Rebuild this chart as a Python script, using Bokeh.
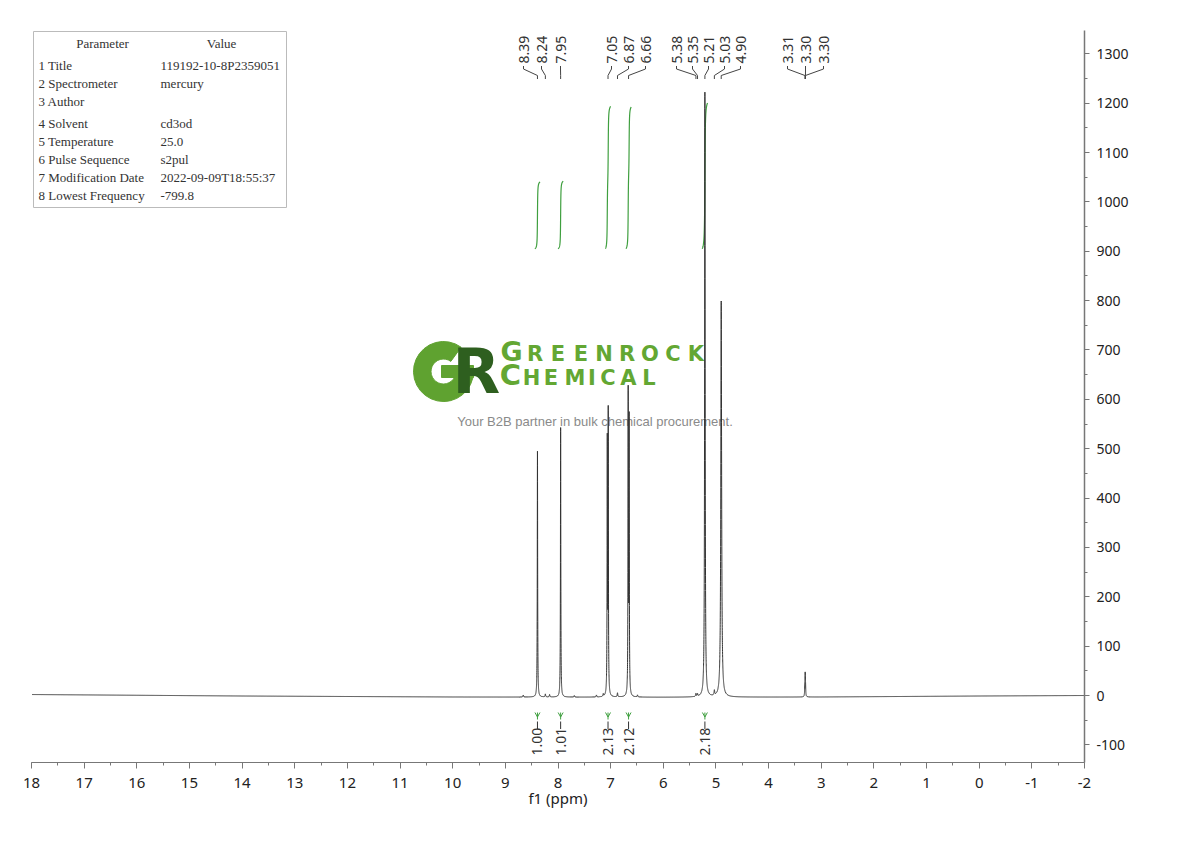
import numpy as np
from bokeh.plotting import figure
from bokeh.models import Range1d, SingleIntervalTicker, CustomJSTickFormatter
from bokeh.core.properties import value
from bokeh.embed import file_html
from bokeh.resources import INLINE

# ------------------------------------------------------------------ data
# spectrum lines: chemical shift (ppm), height (a.u.), half width (ppm)
peak_ppm    = [8.66, 8.39, 8.24, 8.16, 7.95, 7.69, 7.27, 7.14, 7.064, 7.046,
               6.87, 6.667, 6.649, 6.49, 5.38, 5.35, 5.21, 5.03, 4.90,
               3.312, 3.305, 3.298]
peak_height = [4, 498, 6, 5, 546, 3, 4, 5, 508, 567,
               8, 606, 550, 4, 6, 5, 1225, 10, 802,
               18, 42, 18]
peak_width  = [0.006, 0.004, 0.006, 0.006, 0.004, 0.006, 0.006, 0.006, 0.004, 0.004,
               0.006, 0.004, 0.004, 0.006, 0.006, 0.006, 0.006, 0.007, 0.009,
               0.004, 0.004, 0.004]
# baseline drift
base_ppm = [-2, 0, 3, 6, 10, 14, 18]
base_val = [0, -1, -3, -3.5, -3, -1, 2]

# peak picking labels
shift_ppm = [8.39, 8.24, 7.95, 7.05, 6.87, 6.66, 5.38, 5.35, 5.21, 5.03, 4.90, 3.31, 3.30, 3.30]

# integrals: region start / end (ppm) and value
int_start = [8.44, 8.00, 7.10, 6.71, 5.26]
int_end   = [8.34, 7.90, 7.00, 6.61, 5.16]
int_value = [1.00, 1.01, 2.13, 2.12, 2.18]

# parameter table
param_names  = ["1 Title", "2 Spectrometer", "3 Author", "4 Solvent", "5 Temperature",
                "6 Pulse Sequence", "7 Modification Date", "8 Lowest Frequency"]
param_values = ["119192-10-8P2359051", "mercury", "", "cd3od", "25.0",
                "s2pul", "2022-09-09T18:55:37", "-799.8"]

# ------------------------------------------------------------------ layout
X_LEFT, X_RIGHT = 18.0, -2.0
Y_TOP, Y_BOT = 1347.2, -135.7
FRAME_L, FRAME_T, FRAME_W, FRAME_H = 31, 30, 1053, 732   # in page pixels
BORDER_R, BORDER_B = 74, 61
W, H = FRAME_L + FRAME_W + BORDER_R, FRAME_T + FRAME_H + BORDER_B

def px2x(px):
    return X_LEFT - (px - FRAME_L) * (X_LEFT - X_RIGHT) / FRAME_W

def px2y(py):
    return Y_TOP - (py - FRAME_T) * (Y_TOP - Y_BOT) / FRAME_H

label_px = [523, 541, 560, 611, 628, 645, 676, 692, 708, 724, 740, 787, 805, 823]
INT_BASE, INT_SCALE = 905.0, 135.5

p = figure(width=W, height=H, output_backend="svg", toolbar_location=None,
           x_range=Range1d(X_LEFT, X_RIGHT), y_range=Range1d(Y_BOT, Y_TOP),
           y_axis_location="right", min_border_left=FRAME_L,
           min_border_top=FRAME_T, min_border_right=BORDER_R,
           min_border_bottom=BORDER_B)
p.outline_line_color = None
p.xgrid.visible = False
p.ygrid.visible = False
p.background_fill_color = "white"
p.border_fill_color = "white"

# axes
xa = p.xaxis[0]
xa.ticker = SingleIntervalTicker(interval=1, num_minor_ticks=2)
xa.formatter = CustomJSTickFormatter(code="return String(Math.round(tick));")
xa.axis_label = "f1 (ppm)"
xa.axis_label_text_font = "Noto Sans"
xa.axis_label_text_font_style = "normal"
xa.axis_label_text_font_size = "15px"
xa.axis_label_text_color = "#222222"
xa.axis_label_standoff = -3
xa.major_label_text_font = "Noto Sans"
xa.major_label_text_font_size = "15px"
xa.major_label_text_color = "#222222"
xa.major_label_standoff = 9
xa.axis_line_color = "#777777"
xa.major_tick_line_color = "#777777"
xa.minor_tick_line_color = "#777777"
xa.major_tick_in = 0
xa.major_tick_out = 6
xa.minor_tick_in = 0
xa.minor_tick_out = 3

ya = p.yaxis[0]
ya.ticker = SingleIntervalTicker(interval=100, num_minor_ticks=2)
ya.formatter = CustomJSTickFormatter(code="return String(Math.round(tick));")
ya.major_label_text_font = "Noto Sans"
ya.major_label_text_font_size = "14px"
ya.major_label_text_color = "#222222"
ya.major_label_standoff = 7
ya.axis_line_color = "#777777"
ya.axis_line_width = 1.5
ya.major_tick_line_color = "#777777"
ya.minor_tick_line_color = "#777777"
ya.major_tick_in = 0
ya.major_tick_out = 5
ya.minor_tick_in = 0
ya.minor_tick_out = 3

# ------------------------------------------------------------------ watermark
G_GREEN, R_GREEN, T_GREEN = "#5fa230", "#2e5f1f", "#63a733"
p.annular_wedge(x=px2x(443), y=px2y(371), inner_radius=12.5, outer_radius=30,
                inner_radius_units="screen", outer_radius_units="screen",
                start_angle=np.radians(54), end_angle=np.radians(360),
                direction="anticlock", color=G_GREEN)
p.quad(left=px2x(441), right=px2x(473), top=px2y(365), bottom=px2y(377), color=G_GREEN)
p.text(x=[px2x(452)], y=[px2y(393 - 0.36 * 62)], text=["R"], text_font=value("DejaVu Sans"),
       text_font_style="bold", text_font_size="62px", text_color=R_GREEN,
       text_align="left", text_baseline="middle")

word1 = list("GREENROCK")
w1_px = [511] + [534.5 + 23 * i for i in range(8)]
w1_fs = [27] + [21] * 8
word2 = list("CHEMICAL")
w2_px = [510, 531, 550.5, 574.5, 591.5, 607.5, 628, 648.5]
w2_fs = [29] + [21] * 7
p.text(x=[px2x(v) for v in w1_px], y=[px2y(361 - 0.36 * f) for f in w1_fs], text=word1,
       text_font=value("DejaVu Sans"), text_font_style="bold",
       text_font_size=[f"{f}px" for f in w1_fs],
       text_color=T_GREEN, text_align="center", text_baseline="middle")
p.text(x=[px2x(v) for v in w2_px], y=[px2y(385 - 0.36 * f) for f in w2_fs], text=word2,
       text_font=value("DejaVu Sans"), text_font_style="bold",
       text_font_size=[f"{f}px" for f in w2_fs],
       text_color=T_GREEN, text_align="center", text_baseline="middle")
p.text(x=[px2x(594.5)], y=[px2y(421)], text=["Your B2B partner in bulk chemical procurement."],
       text_font=value("Liberation Sans"), text_font_size="13px", text_color="#8a8a8a",
       text_align="center", text_baseline="middle")

# ------------------------------------------------------------------ spectrum
grid = [np.arange(-2.0, 18.0001, 0.01)]
for c in peak_ppm:
    grid.append(np.arange(c - 0.08, c + 0.08, 0.0005))
    grid.append(np.array([c]))
xs = np.unique(np.concatenate(grid))
xs = xs[(xs >= -2.0) & (xs <= 18.0)]
base = np.interp(xs, base_ppm, base_val)
sig = np.zeros_like(xs)
for c, h, w in zip(peak_ppm, peak_height, peak_width):
    sig += h / (1.0 + ((xs - c) / w) ** 2)
spec = base + sig

# integral curves
GREEN = "#3f9f3f"
for a, b, v in zip(int_start, int_end, int_value):
    m = (xs <= a) & (xs >= b)
    xr = xs[m][::-1]
    sr = sig[m][::-1]
    cum = np.concatenate([[0.0], np.cumsum(0.5 * (sr[1:] + sr[:-1]) * np.abs(np.diff(xr)))])
    frac = cum / cum[-1]
    p.line(xr, INT_BASE + INT_SCALE * v * frac, line_color=GREEN, line_width=1.2)

p.line(xs, spec, line_color="#333333", line_width=1)

# ------------------------------------------------------------------ peak labels
p.text(x=[px2x(v) for v in label_px], y=[px2y(63)] * len(shift_ppm),
       text=[f"{v:.2f}" for v in shift_ppm], angle=np.pi / 2,
       text_font=value("Noto Sans"), text_font_size="14px", text_color="#333333",
       text_align="left", text_baseline="middle")
cx, cy = [], []
for lp, s in zip(label_px, shift_ppm):
    cx.append([px2x(lp), px2x(lp), s, s])
    cy.append([px2y(65.5), px2y(68.5), px2y(75), px2y(78.5)])
p.multi_line(cx, cy, line_color="#444444", line_width=1)

# ------------------------------------------------------------------ integral labels
centers = [(a + b) / 2 for a, b in zip(int_start, int_end)]
mx, my = [], []
d = 2.5 * (X_LEFT - X_RIGHT) / FRAME_W
for c in centers:
    mx.append([c + d, c, c - d]); my.append([px2y(712), px2y(716.5), px2y(712)])
    mx.append([c, c]); my.append([px2y(712), px2y(719)])
p.multi_line(mx, my, line_color=GREEN, line_width=1)
p.multi_line([[c, c] for c in centers], [[px2y(721), px2y(728.5)] for _ in centers],
             line_color="#333333", line_width=1)
p.text(x=centers, y=[px2y(755)] * len(centers), text=[f"{v:.2f}" for v in int_value],
       angle=np.pi / 2, text_font=value("Noto Sans"), text_font_size="14px",
       text_color="#333333", text_align="left", text_baseline="middle")

# ------------------------------------------------------------------ parameter table
p.quad(left=px2x(33), right=px2x(286), top=px2y(31), bottom=px2y(207),
       fill_color="white", line_color="#bbbbbb", line_width=1)
p.text(x=[px2x(102), px2x(221)], y=[px2y(43)] * 2, text=["Parameter", "Value"],
       text_font=value("Liberation Serif"), text_font_size="13px", text_color="#333333",
       text_align="center", text_baseline="middle")
row_py = [65 + 18 * i + (4 if i >= 3 else 0) for i in range(len(param_names))]
p.text(x=[px2x(38)] * len(param_names), y=[px2y(r) for r in row_py], text=param_names,
       text_font=value("Liberation Serif"), text_font_size="13px", text_color="#333333",
       text_align="left", text_baseline="middle")
p.text(x=[px2x(160)] * len(param_values), y=[px2y(r) for r in row_py], text=param_values,
       text_font=value("Liberation Serif"), text_font_size="13px", text_color="#333333",
       text_align="left", text_baseline="middle")

open("out.html", "w").write(file_html(p, INLINE))
